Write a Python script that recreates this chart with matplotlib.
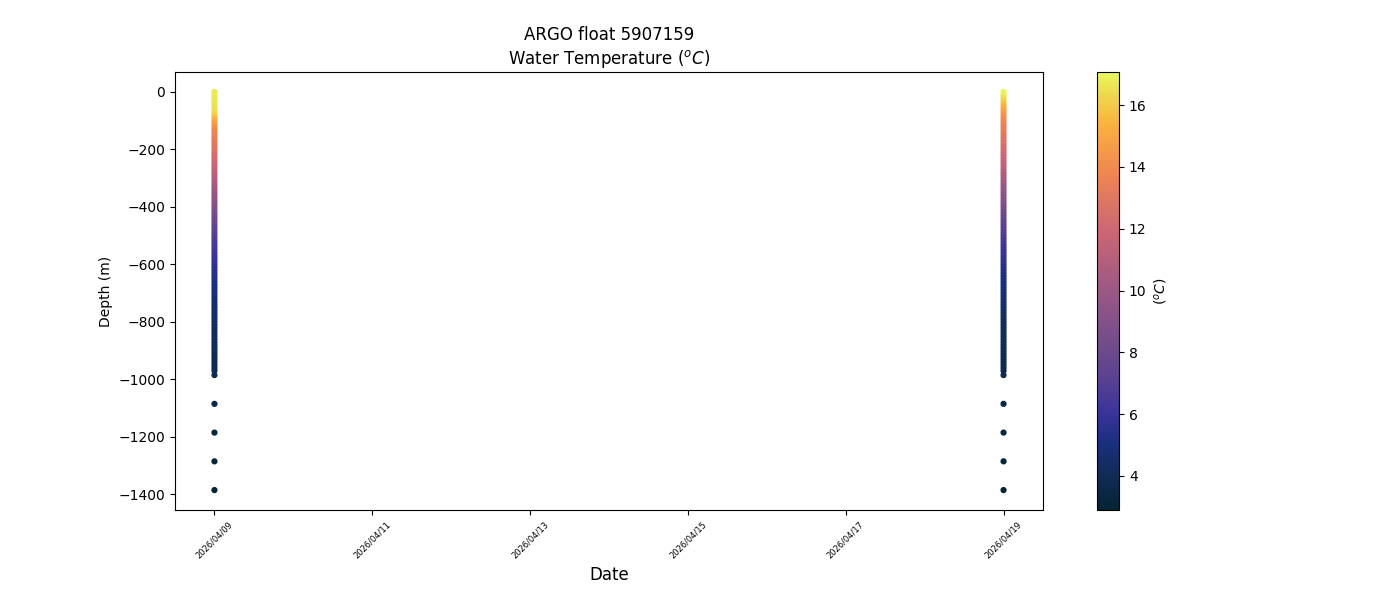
import matplotlib
matplotlib.use("Agg")
import matplotlib.pyplot as plt
import matplotlib.dates as mdates
from matplotlib.colors import LinearSegmentedColormap
import numpy as np
import pandas as pd

# ----------------------------------------------------------------- data
FLOAT_ID = "5907159"
PROFILE_DATES = ["2026-04-09", "2026-04-19"]

DEPTH = [
    0, 10, 20, 30, 40, 50, 60, 70, 80, 90,
    100, 110, 120, 130, 140, 150, 160, 170, 180, 190,
    200, 210, 220, 230, 240, 250, 260, 270, 280, 290,
    300, 310, 320, 330, 340, 350, 360, 370, 380, 390,
    400, 410, 420, 430, 440, 450, 460, 470, 480, 490,
    500, 510, 520, 530, 540, 550, 560, 570, 580, 590,
    600, 610, 620, 630, 640, 650, 660, 670, 680, 690,
    700, 710, 720, 730, 740, 750, 760, 770, 780, 790,
    800, 810, 820, 830, 840, 850, 860, 870, 880, 890,
    900, 910, 920, 930, 940, 950, 960, 970,
    985, 1085, 1185, 1285, 1385,
]

TEMP_0409 = [
    16.7, 16.7, 16.7, 16.6, 16.6, 16.6, 16.5, 16.4, 16.2, 15.6,
    15.1, 14.7, 14.3, 14.0, 13.8, 13.6, 13.4, 13.25, 13.1, 12.9,
    12.8, 12.6, 12.5, 12.3, 12.2, 12.0, 11.8, 11.6, 11.4, 11.2,
    11.0, 10.8, 10.6, 10.4, 10.2, 10.0, 9.8, 9.6, 9.4, 9.2,
    9.0, 8.8, 8.6, 8.4, 8.2, 8.0, 7.8, 7.6, 7.5, 7.3,
    7.1, 6.9, 6.8, 6.6, 6.5, 6.4, 6.2, 6.1, 6.0, 5.9,
    5.8, 5.7, 5.6, 5.5, 5.4, 5.3, 5.2, 5.1, 5.0, 4.95,
    4.9, 4.8, 4.75, 4.7, 4.6, 4.55, 4.5, 4.45, 4.4, 4.35,
    4.3, 4.27, 4.24, 4.21, 4.18, 4.15, 4.12, 4.09, 4.06, 4.03,
    4.0, 3.98, 3.95, 3.92, 3.9, 3.87, 3.85, 3.82,
    3.8, 3.55, 3.3, 3.1, 2.9,
]

TEMP_0419 = [
    17.07, 16.9, 16.6, 16.2, 15.8, 15.4, 15.0, 14.7, 14.4, 14.1,
    13.9, 13.7, 13.5, 13.35, 13.2, 13.05, 12.9, 12.8, 12.65, 12.5,
    12.35, 12.2, 12.05, 11.9, 11.75, 11.6, 11.4, 11.2, 11.0, 10.8,
    10.6, 10.4, 10.2, 10.0, 9.8, 9.6, 9.4, 9.2, 9.0, 8.8,
    8.6, 8.4, 8.2, 8.0, 7.8, 7.6, 7.45, 7.3, 7.1, 6.95,
    6.8, 6.65, 6.5, 6.35, 6.2, 6.1, 6.0, 5.9, 5.8, 5.7,
    5.6, 5.5, 5.4, 5.3, 5.2, 5.1, 5.05, 5.0, 4.9, 4.85,
    4.8, 4.7, 4.65, 4.6, 4.55, 4.5, 4.45, 4.4, 4.36, 4.32,
    4.28, 4.25, 4.22, 4.19, 4.16, 4.13, 4.1, 4.07, 4.04, 4.01,
    3.99, 3.96, 3.94, 3.91, 3.89, 3.87, 3.85, 3.83,
    3.81, 3.56, 3.32, 3.1, 2.92,
]

# cmocean "thermal" look-alike (cmocean is not available here)
thermal = LinearSegmentedColormap.from_list(
    "thermal_like",
    [
        (0.00, "#042333"),
        (0.08, "#0f2d57"),
        (0.15, "#192f7e"),
        (0.22, "#3a3399"),
        (0.30, "#5a4191"),
        (0.36, "#6c4a8c"),
        (0.50, "#9b5885"),
        (0.64, "#cd6674"),
        (0.78, "#f2894f"),
        (0.88, "#fbb13e"),
        (0.95, "#efd84c"),
        (1.00, "#e8fa5b"),
    ],
)

# ----------------------------------------------------------------- plot
rows = []
for date, temps in zip(PROFILE_DATES, [TEMP_0409, TEMP_0419]):
    for d, t in zip(DEPTH, temps):
        rows.append({"time": pd.Timestamp(date), "depth": -d, "temp": t})
df = pd.DataFrame(rows)

fig, ax = plt.subplots(figsize=(14, 6), dpi=100)
fig.subplots_adjust(bottom=0.15)

sc = ax.scatter(df["time"], df["depth"], c=df["temp"], cmap=thermal, s=12)

ax.xaxis.set_major_locator(mdates.DayLocator(interval=2))
ax.xaxis.set_major_formatter(mdates.DateFormatter("%Y/%m/%d"))
plt.setp(ax.get_xticklabels(), rotation=45, fontsize=6)

ax.set_xlabel("Date", fontsize=12)
ax.set_ylabel("Depth (m)")
ax.set_title(f"ARGO float {FLOAT_ID}\nWater Temperature ($^oC$)", fontsize=12)

cb = fig.colorbar(sc, ax=ax)
cb.set_label("($^oC$)")

fig.savefig("out.png", dpi=100)
